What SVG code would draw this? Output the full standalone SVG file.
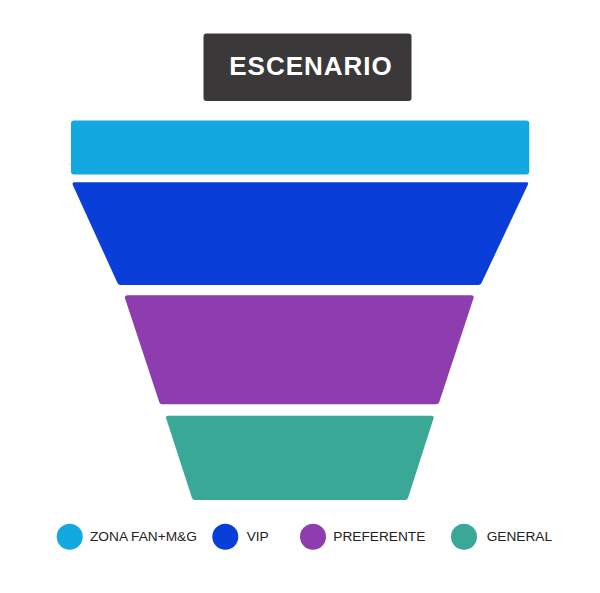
<svg xmlns="http://www.w3.org/2000/svg" width="600" height="593" viewBox="0 0 600 593">
<style>
.legend{font-family:"Liberation Sans",Arial,sans-serif;font-size:13.7px;fill:#222}
.title{font-family:"Liberation Sans",Arial,sans-serif;font-size:26px;font-weight:bold;fill:#fff;letter-spacing:1px}
</style>
<rect width="600" height="593" fill="#fff"/>
<g id="escenario">
<rect x="203.5" y="33.5" width="208" height="67.5" rx="3" fill="#3a3839"/>
<text class="title" x="311" y="75" text-anchor="middle">ESCENARIO</text>
</g>
<g id="zona-fan">
<rect x="71" y="120.5" width="458.3" height="54" rx="3" fill="#14a8e1"/>
</g>
<g id="vip">
<path d="M74.5,182.3 L526.5,182.3 Q529,182.3 527.8,184.8 L481.5,283 Q480.7,285 478.5,285 L120.5,285 Q118.3,285 117.5,283 L72.8,185 Q71.8,182.3 74.5,182.3 Z" fill="#0a3ed8"/>
</g>
<g id="preferente">
<path d="M127.5,295.3 L471.5,295.3 Q474.5,295.3 473.5,298.3 L439.2,402.3 Q438.5,404.3 436.3,404.3 L162,404.3 Q160,404.3 159.3,402.3 L125,298.3 Q124.2,295.3 127.5,295.3 Z" fill="#8e3daf"/>
</g>
<g id="general">
<path d="M168.2,415.8 L431.5,415.8 Q434.5,415.8 433.5,418.6 L408,498 Q407.3,500 405.2,500 L194.7,500 Q192.7,500 192,498 L166.2,418.6 Q165.3,415.8 168.2,415.8 Z" fill="#3aa897"/>
</g>
<g id="connectors"></g>
<g id="legend">
<circle cx="69.7" cy="536.7" r="13" fill="#14a8e1"/>
<text class="legend" x="90" y="541">ZONA FAN+M&amp;G</text>
<circle cx="225.3" cy="536.7" r="13" fill="#0a3ed8"/>
<text class="legend" x="246.7" y="541">VIP</text>
<circle cx="313" cy="536.7" r="13" fill="#8e3daf"/>
<text class="legend" x="333.3" y="541">PREFERENTE</text>
<circle cx="464" cy="536.7" r="13" fill="#3aa897"/>
<text class="legend" x="486.7" y="541">GENERAL</text>
</g>
</svg>
